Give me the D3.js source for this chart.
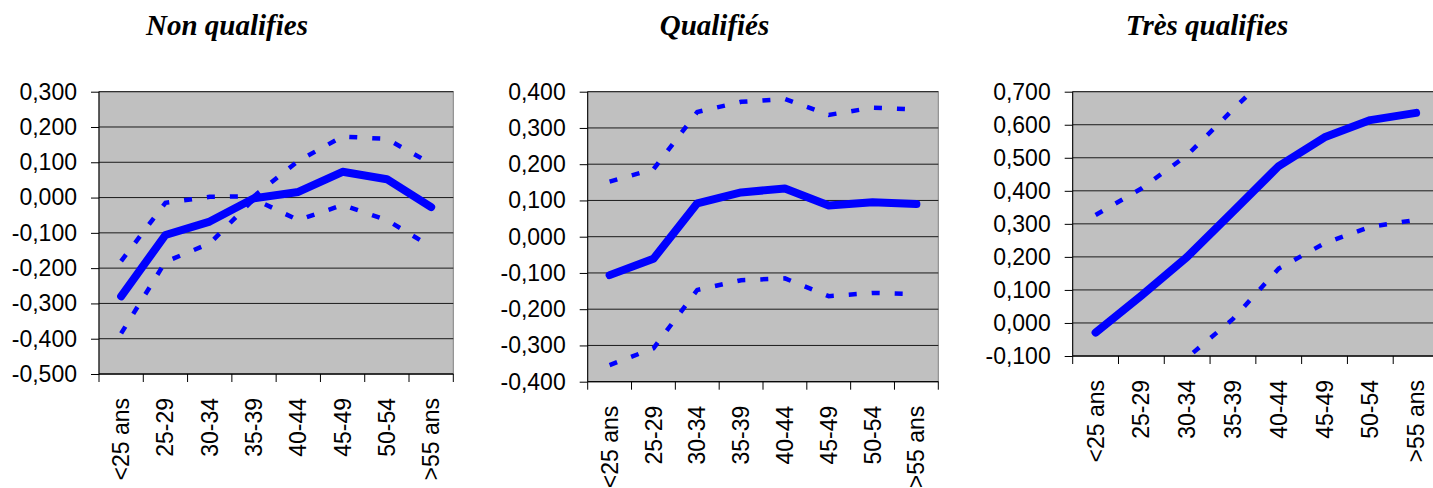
<!DOCTYPE html>
<html>
<head>
<meta charset="utf-8">
<script src="https://cdn.jsdelivr.net/npm/d3@7"></script>
<style>
  html, body { margin: 0; padding: 0; background: #fff; }
  svg { display: block; }
  .title { font-family: "Liberation Serif", "Times New Roman", serif; font-weight: bold; font-style: italic; font-size: 29px; }
  .tick text { font-family: "Liberation Sans", Arial, sans-serif; font-size: 23px; fill: #000; }
</style>
</head>
<body>
<svg id="chart" width="1433" height="488"></svg>
<script>
// Age groups on the horizontal axis
const categories = ["<25 ans", "25-29", "30-34", "35-39", "40-44", "45-49", "50-54", ">55 ans"];

// Panel titles
const titles = ["Non qualifies", "Qualifiés", "Très qualifies"];

// Non qualifies: estimate with lower and upper bounds
const nonQualMain  = [-0.280, -0.106, -0.068, -0.002, 0.016, 0.073, 0.052, -0.027];
const nonQualUpper = [-0.180, -0.015, 0.002, 0.004, 0.104, 0.173, 0.166, 0.096];
const nonQualLower = [-0.385, -0.182, -0.130, -0.004, -0.064, -0.021, -0.064, -0.139];

// Qualifiés
const qualMain  = [-0.106, -0.061, 0.092, 0.122, 0.133, 0.086, 0.095, 0.090];
const qualUpper = [0.152, 0.186, 0.344, 0.372, 0.380, 0.336, 0.356, 0.351];
const qualLower = [-0.354, -0.308, -0.147, -0.120, -0.115, -0.164, -0.155, -0.158];

// Très qualifies
const tresMain  = [-0.029, 0.083, 0.200, 0.337, 0.475, 0.562, 0.614, 0.636];
const tresUpper = [0.327, 0.407, 0.508, 0.646, 0.780, 0.884, 0.938, 0.962];
const tresLower = [-0.385, -0.240, -0.105, 0.012, 0.165, 0.241, 0.291, 0.312];

// Y-axis tick values of each panel
const ticksNonQual = [0.3, 0.2, 0.1, 0.0, -0.1, -0.2, -0.3, -0.4, -0.5];
const ticksQual    = [0.4, 0.3, 0.2, 0.1, 0.0, -0.1, -0.2, -0.3, -0.4];
const ticksTres    = [0.7, 0.6, 0.5, 0.4, 0.3, 0.2, 0.1, 0.0, -0.1];

const panels = [
  { title: titles[0], titleX: 227, main: nonQualMain, upper: nonQualUpper, lower: nonQualLower,
    ticks: ticksNonQual, left: 99, right: 453.3, top: 91.7, bottom: 374 },
  { title: titles[1], titleX: 714.5, main: qualMain, upper: qualUpper, lower: qualLower,
    ticks: ticksQual, left: 587.7, right: 938.3, top: 91.7, bottom: 381.7 },
  { title: titles[2], titleX: 1207, main: tresMain, upper: tresUpper, lower: tresLower,
    ticks: ticksTres, left: 1072.7, right: 1439, top: 91.7, bottom: 356 }
];

const frLocale = d3.formatLocale({ decimal: ",", thousands: "\u00a0", grouping: [3], currency: ["", " €"], minus: "-" });
const fmt = frLocale.format(".3f");

const svg = d3.select("#chart");

panels.forEach((p, i) => {
  const g = svg.append("g");

  g.append("text").attr("class", "title")
    .attr("x", p.titleX).attr("y", 35)
    .attr("text-anchor", "middle")
    .text(p.title);

  const x = d3.scaleBand().domain(categories).range([p.left, p.right]).paddingInner(0).paddingOuter(0);
  const xEdge = d3.scaleLinear().domain([0, categories.length]).range([p.left, p.right]);
  const y = d3.scaleLinear().domain([d3.min(p.ticks), d3.max(p.ticks)]).range([p.bottom, p.top]);

  // plot area
  g.append("rect")
    .attr("x", p.left).attr("y", p.top)
    .attr("width", p.right - p.left).attr("height", p.bottom - p.top)
    .attr("fill", "#c0c0c0").attr("stroke", "#808080").attr("stroke-width", 1);

  // horizontal gridlines
  g.append("g").selectAll("line").data(p.ticks).join("line")
    .attr("x1", p.left).attr("x2", p.right)
    .attr("y1", d => y(d)).attr("y2", d => y(d))
    .attr("stroke", "#1a1a1a").attr("stroke-width", 1);

  // y axis
  const yAxis = g.append("g").attr("transform", `translate(${p.left},0)`)
    .call(d3.axisLeft(y).tickValues(p.ticks).tickFormat(fmt).tickSize(8).tickPadding(14));
  yAxis.select(".domain").remove();
  yAxis.selectAll(".tick line").attr("stroke", "#000");
  g.append("line").attr("x1", p.left).attr("x2", p.left).attr("y1", p.top).attr("y2", p.bottom)
    .attr("stroke", "#000");

  // x axis: boundary ticks and rotated labels
  g.append("line").attr("x1", p.left).attr("x2", p.right).attr("y1", p.bottom).attr("y2", p.bottom)
    .attr("stroke", "#000");
  g.append("g").selectAll("line").data(d3.range(categories.length + 1)).join("line")
    .attr("x1", d => xEdge(d)).attr("x2", d => xEdge(d))
    .attr("y1", p.bottom).attr("y2", p.bottom + 8)
    .attr("stroke", "#000");

  const xAxis = g.append("g").attr("transform", `translate(0,${p.bottom})`)
    .call(d3.axisBottom(x).tickSize(0).tickPadding(0));
  xAxis.select(".domain").remove();
  xAxis.selectAll(".tick text")
    .attr("transform", "rotate(-90)")
    .attr("text-anchor", "end")
    .attr("x", -24).attr("y", 0).attr("dy", "0.35em");

  // series, clipped to the plot area
  const clipId = "clip" + i;
  g.append("clipPath").attr("id", clipId).append("rect")
    .attr("x", p.left).attr("y", p.top)
    .attr("width", p.right - p.left).attr("height", p.bottom - p.top);

  const line = d3.line()
    .x((d, k) => x(categories[k]) + x.bandwidth() / 2)
    .y(d => y(d));

  const series = g.append("g").attr("clip-path", `url(#${clipId})`);
  [p.upper, p.lower].forEach(vals => {
    series.append("path").datum(vals)
      .attr("d", line)
      .attr("fill", "none").attr("stroke", "#0000ff")
      .attr("stroke-width", 4.5).attr("stroke-dasharray", "8,15")
      .attr("stroke-linecap", "butt");
  });
  series.append("path").datum(p.main)
    .attr("d", line)
    .attr("fill", "none").attr("stroke", "#0000ff")
    .attr("stroke-width", 8).attr("stroke-linejoin", "round").attr("stroke-linecap", "round");
});
</script>
</body>
</html>
